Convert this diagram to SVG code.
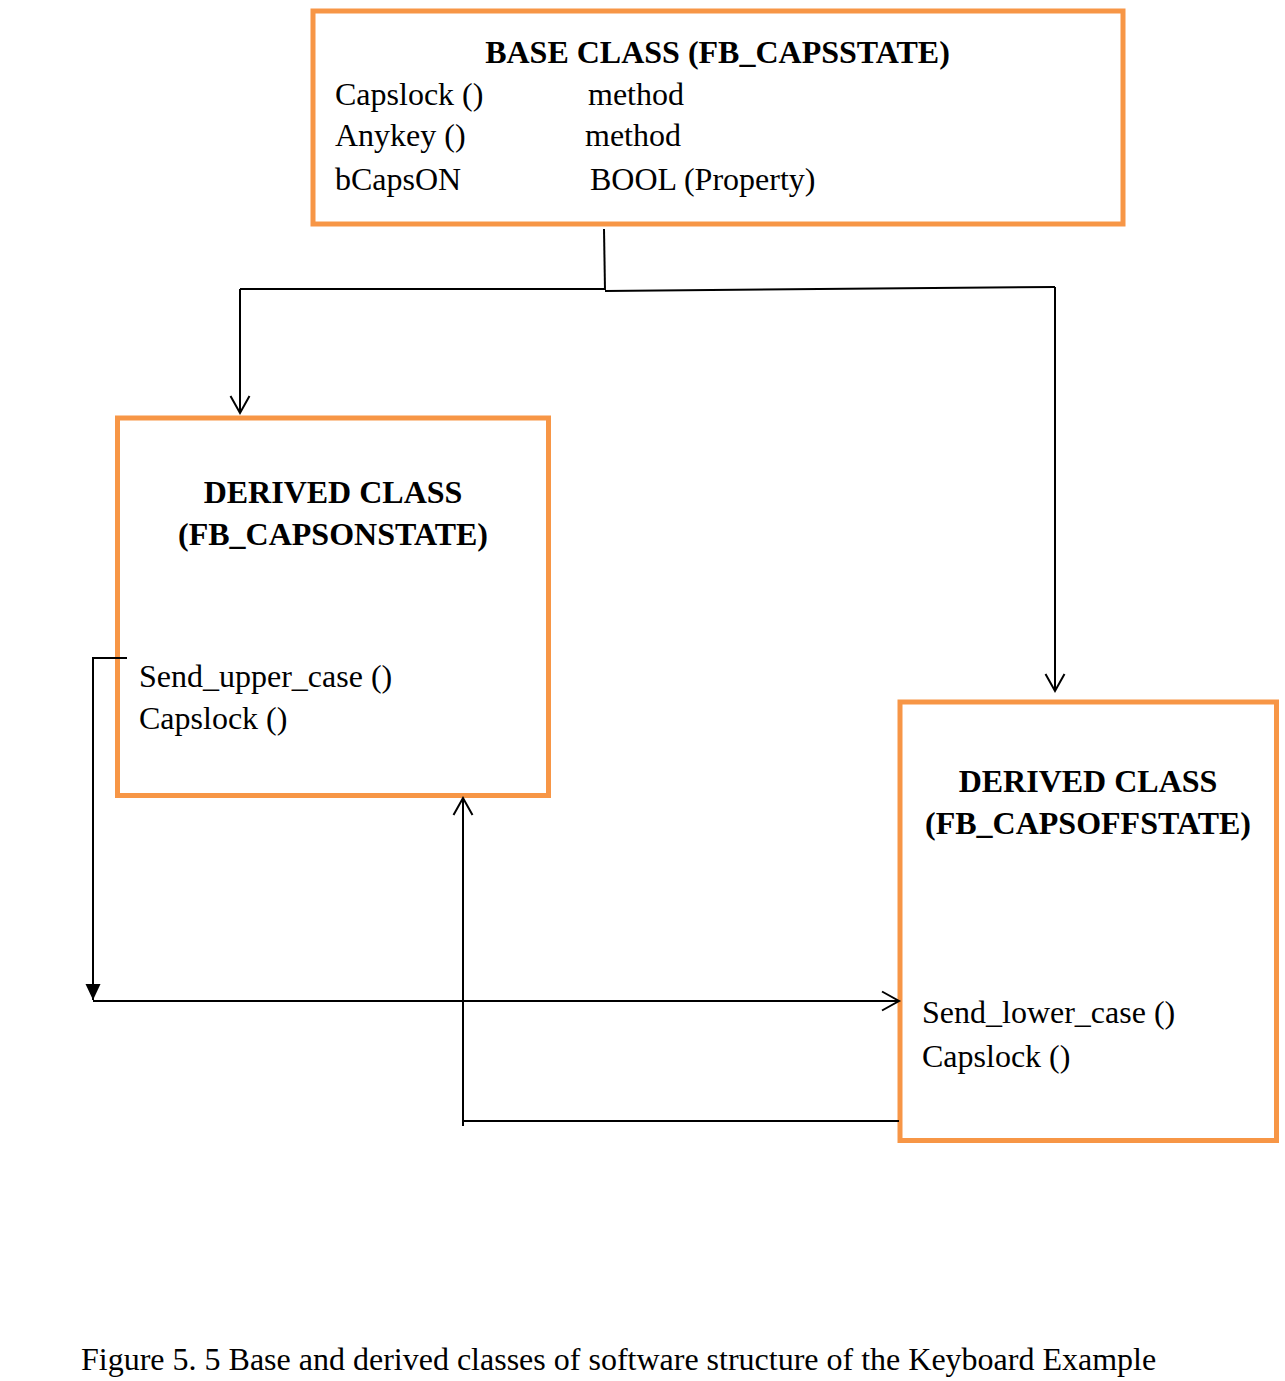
<svg xmlns="http://www.w3.org/2000/svg" width="1285" height="1381" viewBox="0 0 1285 1381">
  <defs>
    <marker id="open" markerUnits="userSpaceOnUse" markerWidth="22" markerHeight="24" refX="19" refY="11" orient="auto">
      <path d="M2,1.5 L19,11 L2,20.5" fill="none" stroke="#000" stroke-width="2"/>
    </marker>
    <marker id="solid" markerUnits="userSpaceOnUse" markerWidth="18" markerHeight="16" refX="16" refY="7.5" orient="auto">
      <path d="M0,0 L16,7.5 L0,15 Z" fill="#000"/>
    </marker>
  </defs>
  <style>
    .box { fill: #fff; stroke: #F79646; stroke-width: 5; }
    .t { font-family: "Liberation Serif", "Times New Roman", serif; font-size: 32px; fill: #000; }
    .b { font-weight: bold; }
    .mid { text-anchor: middle; }
    .ln { fill: none; stroke: #000; stroke-width: 2; }
  </style>
  <rect width="1285" height="1381" fill="#fff"/>

  <g id="base-class">
    <rect class="box" x="313" y="11" width="810" height="213"/>
    <text class="t b mid" x="717.5" y="63">BASE CLASS (FB_CAPSSTATE)</text>
    <text class="t" x="335" y="105">Capslock ()</text>
    <text class="t" x="588" y="105">method</text>
    <text class="t" x="335" y="146">Anykey ()</text>
    <text class="t" x="585" y="146">method</text>
    <text class="t" x="335" y="190">bCapsON</text>
    <text class="t" x="590" y="190">BOOL (Property)</text>
  </g>

  <g id="derived-capson">
    <rect class="box" x="117.5" y="418" width="431" height="377.5"/>
    <text class="t b mid" x="333" y="503">DERIVED CLASS</text>
    <text class="t b mid" x="333" y="545">(FB_CAPSONSTATE)</text>
    <text class="t" x="139" y="687">Send_upper_case ()</text>
    <text class="t" x="139" y="729">Capslock ()</text>
  </g>

  <g id="derived-capsoff">
    <rect class="box" x="900" y="702" width="376.5" height="438.5"/>
    <text class="t b mid" x="1088" y="792">DERIVED CLASS</text>
    <text class="t b mid" x="1088" y="834">(FB_CAPSOFFSTATE)</text>
    <text class="t" x="922" y="1023">Send_lower_case ()</text>
    <text class="t" x="922" y="1067">Capslock ()</text>
  </g>

  <g id="connectors">
    <path class="ln" d="M604,229 L605,290"/>
    <path class="ln" d="M240,289 L605,289"/>
    <path class="ln" d="M605,291 L1055,287"/>
    <path class="ln" d="M240,289 L240,413" marker-end="url(#open)"/>
    <path class="ln" d="M1055,287 L1055,691" marker-end="url(#open)"/>
    <path class="ln" d="M127,658 L93,658 L93,1000" marker-end="url(#solid)"/>
    <path class="ln" d="M93,1001 L899,1001" marker-end="url(#open)"/>
    <path class="ln" d="M899,1121 L463,1121"/>
    <path class="ln" d="M463,1126 L463,798" marker-end="url(#open)"/>
  </g>

  <text class="t" x="81" y="1370">Figure 5. 5 Base and derived classes of software structure of the Keyboard Example</text>
</svg>
